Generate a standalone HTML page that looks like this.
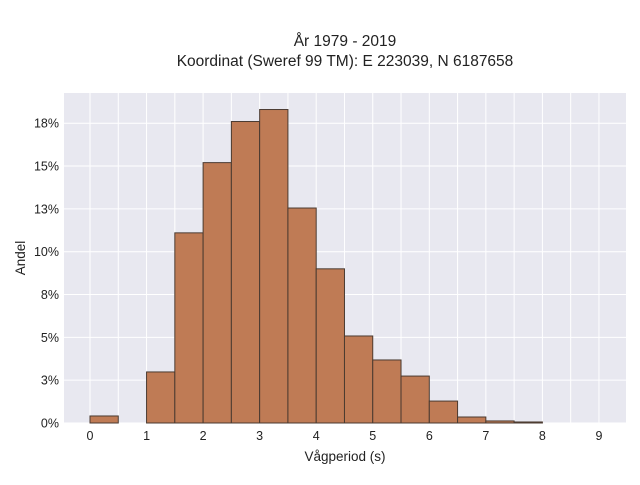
<!DOCTYPE html>
<html><head><meta charset="utf-8"><style>
body{margin:0;background:#fff;font-family:"Liberation Sans",sans-serif;}
</style></head><body>
<svg width="640" height="480" xmlns="http://www.w3.org/2000/svg">
<text x="345" y="46" text-anchor="middle" font-size="15.5" fill="#222">År 1979 - 2019</text>
<text x="345" y="66" text-anchor="middle" font-size="15.5" fill="#222">Koordinat (Sweref 99 TM): E 223039, N 6187658</text>
<rect x="64" y="93" width="562" height="330" fill="#e8e8f0"/>
<g id="grid"></g><g id="bars"></g><g id="ticks"></g>
<text x="345" y="461" text-anchor="middle" font-size="13.5" fill="#222">Vågperiod (s)</text>
<text transform="translate(25,258) rotate(-90)" text-anchor="middle" font-size="13.5" fill="#222">Andel</text>
</svg>
<script>
const binStarts=[0,1,1.5,2,2.5,3,3.5,4,4.5,5,5.5,6,6.5,7,7.5];
const shares=[0.41,2.98,11.1,15.2,17.6,18.3,12.55,9.0,5.08,3.68,2.74,1.28,0.35,0.12,0.06];
const xTicks=[0,1,2,3,4,5,6,7,8,9];
const yTicks=[0,2.5,5,7.5,10,12.5,15,17.5];
const binWidth=0.5;
const NS="http://www.w3.org/2000/svg";
const X=v=>90+v*56.55, Y=v=>423-v*17.13;
const grid=document.getElementById('grid'),bars=document.getElementById('bars'),ticks=document.getElementById('ticks');
function mk(t,a,p){const e=document.createElementNS(NS,t);for(const k in a)e.setAttribute(k,a[k]);p.appendChild(e);return e;}
for(let v=0;v<=9;v+=0.5){const l=mk('line',{x1:X(v),x2:X(v),y1:93,y2:423,stroke:'#fff','stroke-width':1},grid);

}
yTicks.forEach(v=>{const l=mk('line',{x1:64,x2:626,y1:Y(v),y2:Y(v),stroke:'#fff','stroke-width':1},grid);


const t=mk('text',{x:59,y:Y(v)+4.5,'text-anchor':'end','font-size':12.5,fill:'#222'},ticks);
t.textContent=Math.round(v)+'%';

});
xTicks.forEach(v=>{const t=mk('text',{x:X(v),y:440,'text-anchor':'middle','font-size':12.5,fill:'#222'},ticks);
t.textContent=v;

});
binStarts.forEach((s,i)=>{const r=mk('rect',{x:X(s),y:Y(shares[i]),width:X(s+binWidth)-X(s),height:423-Y(shares[i]),fill:'#bf7b55',stroke:'#4a3a30','stroke-width':1},bars);

});
</script>
</body></html>
